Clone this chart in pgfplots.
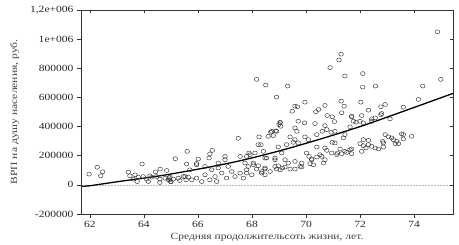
\documentclass[border=0pt]{standalone}
\usepackage{fontspec}
\setmainfont[FakeStretch=1.22]{Liberation Serif}
\usepackage{pgfplots}
\usepackage{pgfplotstable}
\pgfplotsset{compat=1.18}
\pgfplotstableread{
x y
61.97 73800
62.27 120700
62.47 89700
62.40 62100
63.42 87600
63.48 62100
63.60 39300
63.67 69000
63.79 53100
63.75 22800
63.97 57200
64.10 39300
64.16 22800
64.22 62100
64.29 53100
64.47 57200
64.59 39300
64.59 15900
64.78 46200
64.90 34500
64.96 53100
64.99 22800
65.09 39300
65.27 46200
65.33 29700
65.46 57200
65.56 34500
65.64 53100
63.93 142800
64.43 89700
64.60 108300
64.84 98600
65.16 179300
65.60 229700
65.58 142800
64.96 34500
65.00 20700
64.93 48300
66.01 177200
65.95 147000
66.44 211700
66.53 236600
66.41 184100
67.00 195200
66.75 149700
67.49 319300
67.56 195200
67.93 206900
68.11 218600
68.26 329000
68.33 275900
68.69 360700
68.88 370400
69.04 425500
69.06 402100
68.42 229700
68.54 184100
68.85 172400
69.10 218600
65.52 57200
65.77 34500
65.95 46200
66.14 22800
66.26 69000
66.44 34500
66.63 57200
66.69 22800
66.88 80700
67.06 46200
67.25 91700
67.37 57200
67.56 80700
67.68 46200
67.80 103400
67.99 69000
68.17 108300
68.36 80700
68.48 115200
68.67 91700
68.85 126200
69.04 103400
66.75 115200
66.51 103400
67.12 126200
66.26 126200
67.74 149700
68.05 149700
65.95 137900
65.70 103400
67.00 172400
71.22 857300
71.30 896600
70.89 804800
71.44 746900
68.17 724100
68.51 684800
69.32 678000
68.91 602100
69.96 567600
69.59 540000
69.68 535900
69.49 505500
70.70 544800
71.30 574500
71.41 540000
70.36 501400
70.46 517200
71.32 494500
70.78 475900
70.97 466900
71.05 434500
71.69 466900
71.75 436600
69.04 429700
69.00 413800
69.71 436600
69.94 425500
70.33 420700
70.70 406900
68.73 367600
68.91 367600
68.60 333100
68.79 337900
69.59 391000
69.66 367600
69.41 329000
69.59 310300
69.96 329000
70.09 310300
70.40 344800
70.60 367600
70.77 379300
70.93 360700
71.07 367600
70.97 291700
71.07 287600
71.38 322100
71.44 344800
68.23 275900
67.89 218600
67.80 195200
68.97 260000
69.28 275900
69.53 291700
69.71 287600
70.40 260000
70.70 253100
70.77 236600
71.26 246200
71.44 229700
71.69 246200
70.02 218600
70.11 195200
68.48 184100
68.85 184100
69.22 172400
68.97 131000
69.12 115200
68.91 108300
69.34 149700
69.59 160700
69.84 149700
70.21 172400
70.40 191000
70.58 195200
70.70 172400
70.95 218600
71.14 206900
71.32 213800
71.51 222800
67.86 126200
68.05 137900
68.23 131000
67.80 80700
68.36 91700
68.48 108300
69.59 108300
69.78 126200
70.27 137900
70.64 149700
68.48 69000
69.22 122400
70.21 177200
70.52 206900
71.16 218600
70.15 144800
69.41 108300
69.84 122400
74.86 1050400
74.99 724100
74.32 678000
72.10 763500
72.10 671100
72.57 678000
74.16 586200
72.03 567600
72.93 551700
72.77 535900
72.31 512400
73.60 533100
72.06 475900
72.80 489700
72.77 480700
72.56 460000
72.43 453100
73.11 453100
71.69 471000
71.85 429700
72.00 436600
72.12 425500
71.63 397900
72.43 436600
72.93 344800
73.05 329000
73.17 322100
73.23 310300
73.60 344800
73.91 333100
73.60 315200
72.12 310300
72.31 305500
72.84 298600
72.86 287600
73.36 298600
73.42 282800
73.30 282800
72.00 282800
72.12 269000
72.31 275900
72.43 264100
72.56 253100
72.68 246200
72.86 260000
72.06 229700
72.22 253100
71.63 241400
71.69 213800
73.54 349700
}\scatterdata
\pgfplotstableread{
x y
61.67 -10000
62.00 -6000
63.11 24000
64.59 62000
66.07 110000
67.56 165500
69.04 234500
70.52 313800
72.00 400000
73.48 496600
75.44 627600
}\curvedata
\begin{document}
\begin{tikzpicture}
\pgfplotsset{
  common/.style={
    scale only axis,
    width=372bp, height=204bp,
    xmin=61.67, xmax=75.44,
    ymin=-200000, ymax=1200000,
    xtick={62,64,66,68,70,72,74},
    ytick={-200000,0,200000,400000,600000,800000,1000000,1200000},
    axis line style={black!80, line width=0.6pt},
    tick style={black!80, line width=0.5pt},
    major tick length=4bp,
    scaled ticks=false,
  }
}
\begin{axis}[common, name=main,
  xtick pos=bottom, ytick pos=left, tick align=outside,
  xticklabels={62,64,66,68,70,72,74},
  yticklabels={-200000,0,200000,400000,600000,800000,1e+006,{1,2e+006}},
  tick label style={font=\fontsize{9.5}{11}\selectfont, black!85},
  xlabel={Средняя продолжительсоть жизни, лет.},
  ylabel={ВРП на душу населения, руб.},
  label style={font=\fontsize{9.5}{11}\selectfont, black!75},
  xlabel style={yshift=2bp},
  ylabel style={yshift=4bp},
  clip=false,
]
\addplot[gray!55, densely dotted, line width=0.5pt] coordinates {(61.67,0) (75.44,0)};
\addplot[only marks, mark=o, mark size=2.0bp, mark options={black!80, line width=0.45pt, xscale=1.15}] table[x=x,y=y] {\scatterdata};
\addplot[black, line width=1.3pt, smooth] table[x=x,y=y] {\curvedata};
\end{axis}
\begin{axis}[common,
  xtick pos=top, ytick pos=right, tick align=inside,
  xticklabels={}, yticklabels={},
  major tick length=3bp,
]
\end{axis}
\pgfresetboundingbox
\path[use as bounding box] ([xshift=-81bp,yshift=-31bp]main.south west) rectangle ([xshift=6bp,yshift=10bp]main.north east);
\end{tikzpicture}
\end{document}
